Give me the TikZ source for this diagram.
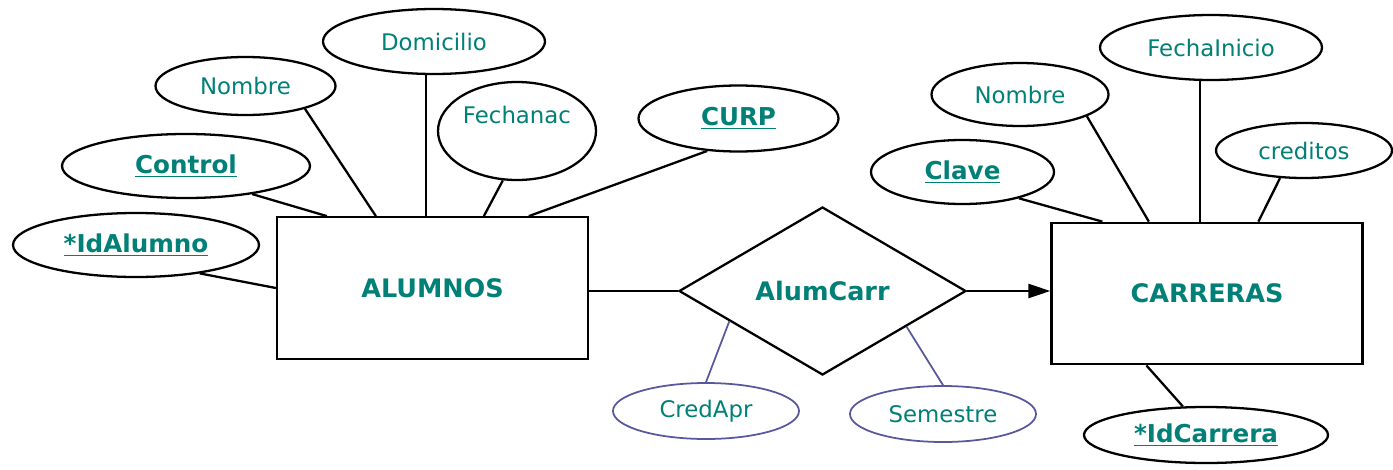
\documentclass[tikz,border=0pt]{standalone}
\usepackage{fontspec}
\setmainfont{DejaVu Sans}
\usetikzlibrary{arrows.meta,shapes.geometric}
\definecolor{labelteal}{RGB}{0,128,118}
\definecolor{relborder}{RGB}{88,88,158}

\begin{document}
\begin{tikzpicture}[
    >={Triangle[length=0.44cm, width=0.28cm]},
    entity/.style={draw=black, line width=1.3pt, minimum width=6.22cm, minimum height=2.83cm, text=labelteal, font=\fontsize{14.5}{17}\selectfont\bfseries},
    attrib/.style={ellipse, draw=black, line width=1.3pt, inner sep=0pt, text=labelteal, font=\fontsize{13}{15}\selectfont},
    keyattrib/.style={attrib, font=\fontsize{14}{16}\selectfont\bfseries},
    relattrib/.style={attrib, draw=relborder, line width=1pt},
    link/.style={black, line width=1.3pt},
    rellink/.style={relborder, line width=1pt}
]

% Canvas
\useasboundingbox (0,0) rectangle (27.86,-9.38);

% 1. ENTITIES & RELATIONSHIP
\node[entity] (ALUMNOS) at (8.65,-5.76) {ALUMNOS};
\node[entity] (CARRERAS) at (24.14,-5.87) {CARRERAS};
\node[diamond, draw=black, line width=1.3pt, aspect=1.7, minimum width=5.74cm, minimum height=3.36cm, inner sep=0pt, text=labelteal, font=\fontsize{14.5}{17}\selectfont\bfseries] (ALUM_CARR) at (16.45,-5.82) {AlumCarr};

% 2. ALUMNOS attributes
\node[keyattrib, minimum width=4.92cm, minimum height=1.28cm] (ID_ALUMNO) at (2.72,-4.9) {\underline{*IdAlumno}};
\node[keyattrib, minimum width=4.96cm, minimum height=1.28cm] (CONTROL) at (3.72,-3.32) {\underline{Control}};
\node[attrib, minimum width=3.6cm, minimum height=1.16cm] (NOMBRE_ALUM) at (4.91,-1.72) {Nombre};
\node[attrib, minimum width=4.44cm, minimum height=1.3cm] (DOMICILIO) at (8.68,-0.83) {Domicilio};
\node[attrib, minimum width=3.16cm, minimum height=1.96cm, text depth=0.64cm] (FECHANAC) at (10.34,-2.62) {Fechanac};
\node[keyattrib, minimum width=4.0cm, minimum height=1.32cm] (CURP) at (14.77,-2.37) {\underline{CURP}};

\draw[link] (ID_ALUMNO.-24) -- (ALUMNOS.west);
\draw[link] (CONTROL.-23) -- ([xshift=1.02cm]ALUMNOS.north west);
\draw[link] (NOMBRE_ALUM.-21) -- ([xshift=2cm]ALUMNOS.north west);
\draw[link] (DOMICILIO.-104) -- (DOMICILIO.-104 |- ALUMNOS.north);
\draw[link] (FECHANAC.-106) -- ([xshift=4.16cm]ALUMNOS.north west);
\draw[link] (CURP.-134) -- ([xshift=5.06cm]ALUMNOS.north west);

% 3. CARRERAS attributes
\node[keyattrib, minimum width=3.66cm, minimum height=1.28cm] (CLAVE) at (19.25,-3.44) {\underline{Clave}};
\node[attrib, minimum width=3.54cm, minimum height=1.26cm] (NOMBRE_CARR) at (20.4,-1.89) {Nombre};
\node[attrib, minimum width=4.44cm, minimum height=1.3cm] (FECHA_INICIO) at (24.22,-0.95) {FechaInicio};
\node[attrib, minimum width=3.52cm, minimum height=1.1cm] (CREDITOS) at (26.08,-3.01) {creditos};
\node[keyattrib, minimum width=4.88cm, minimum height=1.12cm] (ID_CARRERA) at (24.12,-8.7) {\underline{*IdCarrera}};

\draw[link] (CLAVE.-25) -- ([xshift=1.04cm]CARRERAS.north west);
\draw[link] (NOMBRE_CARR.-18) -- ([xshift=1.97cm]CARRERAS.north west);
\draw[link] (FECHA_INICIO.-108) -- (FECHA_INICIO.-108 |- CARRERAS.north);
\draw[link] (CREDITOS.-131) -- ([xshift=4.16cm]CARRERAS.north west);
\draw[link] ([xshift=1.92cm]CARRERAS.south west) -- (ID_CARRERA.129);

% 4. Relationship attributes
\node[relattrib, minimum width=3.72cm, minimum height=1.12cm] (CRED_APR) at (14.12,-8.22) {CredApr};
\node[relattrib, minimum width=3.72cm, minimum height=1.12cm] (SEMESTRE) at (18.86,-8.28) {Semestre};

\draw[rellink] (ALUM_CARR.-162) -- (CRED_APR.north);
\draw[rellink] (ALUM_CARR.-23) -- (SEMESTRE.north);

% 5. Connections
\draw[link] (ALUMNOS.east |- ALUM_CARR.west) -- (ALUM_CARR.west);
\draw[link, ->] (ALUM_CARR.east) -- (ALUM_CARR.east -| CARRERAS.west);

\end{tikzpicture}
\end{document}
